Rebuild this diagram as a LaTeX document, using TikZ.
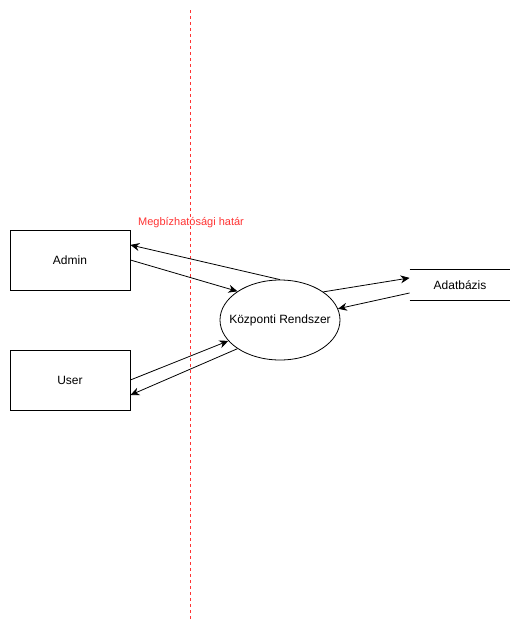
\documentclass[tikz,border=0pt]{standalone}
\usepackage{fontspec}
\setmainfont{Liberation Sans}
\usetikzlibrary{arrows.meta,shapes.geometric}

\definecolor{hatarRed}{HTML}{FF3333}

\tikzset{
	entity/.style={draw, minimum width=120pt, minimum height=60pt, inner sep=0pt, font=\fontsize{12}{14}\selectfont},
	process/.style={draw, ellipse, minimum width=120pt, minimum height=80pt, inner sep=0pt, label={[font=\fontsize{12}{14}\selectfont]center:#1}},
	store/.style={minimum width=100pt, minimum height=30pt, inner sep=0pt, font=\fontsize{12}{14}\selectfont},
	flow/.style={-{Stealth[length=9pt,width=8pt]}, line width=0.8pt},
	boundary/.style={hatarRed, line width=0.8pt, dash pattern=on 3pt off 3pt}
}

\begin{document}
\begin{tikzpicture}[x=1pt, y=-1pt, line width=0.8pt]%[show background grid]

	\useasboundingbox (0,0) rectangle (521,632);

	\node[entity] (admin) at (70,260) {Admin};
	\node[entity] (user) at (70,380) {User};
	\node[process={Központi Rendszer}] (kozpont) at (280,320) {};
	\node[store] (adat) at (460,285) {Adatbázis};
	\draw (adat.north west) -- (adat.north east);
	\draw (adat.south west) -- (adat.south east);

	\coordinate (hatarTop) at (190,10);
	\coordinate (hatarBottom) at (190,620);
	\draw[boundary] (hatarTop) -- (hatarBottom);
	\node[text=hatarRed, font=\fontsize{11}{13}\selectfont] (hatar) at (191,223) {Megbízhatósági határ};

	\draw[flow] (kozpont.north) -- (admin.14);
	\draw[flow] (admin.east) -- (kozpont.146);
	\draw[flow] (user.east) -- (kozpont.202);
	\draw[flow] (kozpont.214) -- (user.346);
	\draw[flow] (kozpont.33) -- (adat.172);
	\draw[flow] (adat.189) -- (kozpont.11);

\end{tikzpicture}
\end{document}
